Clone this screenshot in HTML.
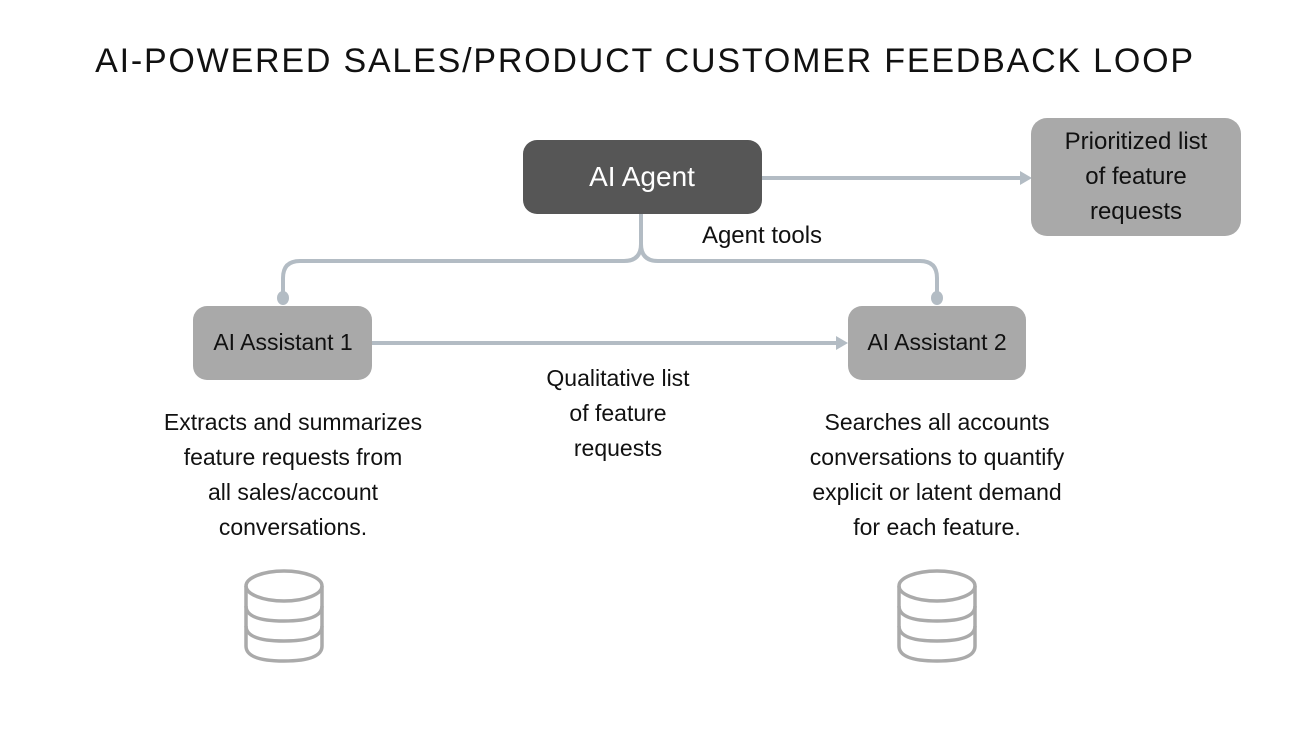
<!DOCTYPE html>
<html><head><meta charset="utf-8"><style>
html,body{margin:0;padding:0;background:#fff;}
svg{display:block}
text{font-family:"Liberation Sans",sans-serif;fill:#111}
</style></head><body>
<svg width="1292" height="738" viewBox="0 0 1292 738" xmlns="http://www.w3.org/2000/svg">
<rect width="1292" height="738" fill="#fff"/>
<text x="645" y="72" text-anchor="middle" font-size="34" letter-spacing="1.8">AI-POWERED SALES/PRODUCT CUSTOMER FEEDBACK LOOP</text>

<g stroke="#b3bcc4" stroke-width="4" fill="none">
<path d="M762 178 H1022"/>
<path d="M641 214 V244 Q641 261 624 261 H300 Q283 261 283 278 V296"/>
<path d="M641 244 Q641 261 658 261 H920 Q937 261 937 278 V296"/>
<path d="M372 343 H838"/>
</g>
<polygon points="1032,178 1020,171 1020,185" fill="#b3bcc4"/>
<polygon points="848,343 836,336 836,350" fill="#b3bcc4"/>
<ellipse cx="283" cy="298" rx="6" ry="7" fill="#b3bcc4"/>
<ellipse cx="937" cy="298" rx="6" ry="7" fill="#b3bcc4"/>

<rect x="523" y="140" width="239" height="74" rx="14" fill="#565656"/>
<text x="642" y="186" text-anchor="middle" font-size="28" style="fill:#fff">AI Agent</text>

<rect x="1031" y="118" width="210" height="118" rx="16" fill="#a9a9a9"/>
<text text-anchor="middle" font-size="24"><tspan x="1136" y="149">Prioritized list</tspan><tspan x="1136" y="184">of feature</tspan><tspan x="1136" y="219">requests</tspan></text>

<text x="762" y="243" text-anchor="middle" font-size="24">Agent tools</text>

<rect x="193" y="306" width="179" height="74" rx="14" fill="#a9a9a9"/>
<text x="283" y="350" text-anchor="middle" font-size="23">AI Assistant 1</text>
<rect x="848" y="306" width="178" height="74" rx="14" fill="#a9a9a9"/>
<text x="937" y="350" text-anchor="middle" font-size="23">AI Assistant 2</text>

<text text-anchor="middle" font-size="23"><tspan x="618" y="386">Qualitative list</tspan><tspan x="618" y="421">of feature</tspan><tspan x="618" y="456">requests</tspan></text>

<text text-anchor="middle" font-size="23"><tspan x="293" y="430">Extracts and summarizes</tspan><tspan x="293" y="465">feature requests from</tspan><tspan x="293" y="500">all sales/account</tspan><tspan x="293" y="535">conversations.</tspan></text>

<text text-anchor="middle" font-size="23"><tspan x="937" y="430">Searches all accounts</tspan><tspan x="937" y="465">conversations to quantify</tspan><tspan x="937" y="500">explicit or latent demand</tspan><tspan x="937" y="535">for each feature.</tspan></text>

<g stroke="#aaa" stroke-width="3.5" fill="none">
<g transform="translate(284,0)">
<ellipse cx="0" cy="586" rx="38" ry="15"/>
<path d="M-38 586 V646 Q-38 661 0 661 Q38 661 38 646 V586"/>
<path d="M-38 606 Q-38 621 0 621 Q38 621 38 606"/>
<path d="M-38 626 Q-38 641 0 641 Q38 641 38 626"/>
</g>
<g transform="translate(937,0)">
<ellipse cx="0" cy="586" rx="38" ry="15"/>
<path d="M-38 586 V646 Q-38 661 0 661 Q38 661 38 646 V586"/>
<path d="M-38 606 Q-38 621 0 621 Q38 621 38 606"/>
<path d="M-38 626 Q-38 641 0 641 Q38 641 38 626"/>
</g>
</g>
</svg>
</body></html>
